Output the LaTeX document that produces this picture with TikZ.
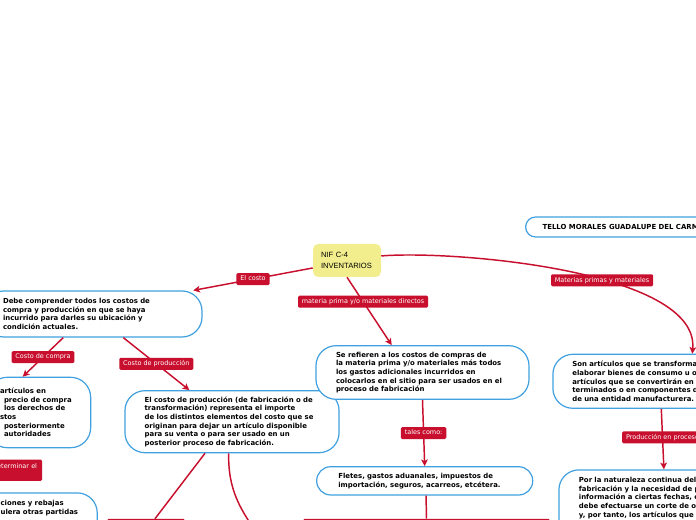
\documentclass[tikz,border=0pt]{standalone}
\usepackage{fontspec}
\setmainfont{DejaVu Sans}
\newfontfamily\niffont{Liberation Sans}
\usetikzlibrary{positioning, arrows.meta}

\definecolor{linkred}{RGB}{200,16,46}
\definecolor{ideablue}{RGB}{64,160,224}
\definecolor{nifyellow}{RGB}{242,238,142}

\newcommand{\ideafont}{\fontsize{5.2pt}{6.5pt}\selectfont\bfseries}
\newcommand{\tagfont}{\fontsize{4.85pt}{5.8pt}\selectfont}

\begin{document}
\begin{tikzpicture}[x=0.75pt, y=-0.75pt]
    \tikzstyle{idea} = [rectangle, rounded corners=15pt, draw=ideablue, line width=0.9pt, fill=white, align=left, font=\ideafont]
    \tikzstyle{central} = [rectangle, rounded corners=4pt, fill=nifyellow, align=left, font=\niffont\fontsize{5.7pt}{8pt}\selectfont]
    \tikzstyle{tag} = [rectangle, rounded corners=1pt, fill=linkred, text=white, font=\tagfont, inner xsep=2.9pt, inner ysep=2.1pt, text height=3.7pt, text depth=1.1pt]
    \tikzstyle{link} = [draw=linkred, line width=1.1pt]
    \tikzstyle{arrow} = [link, -{Stealth[length=5pt, width=5pt, inset=1.2pt]}]

    \fill[white] (0,0) rectangle (696,520);
    \useasboundingbox (0,0) rectangle (696,520);
    \clip (0,0) rectangle (696,520);

    \node (nif) [central, text width=39pt, inner xsep=6pt, minimum height=24.75pt] at (347,260.5) {NIF C-4\\INVENTARIOS};
    \node (tello) [idea, anchor=west, rounded corners=7.5pt, inner xsep=12.75pt, minimum height=15pt] at (525,227) {TELLO MORALES GUADALUPE DEL CARMEN};

    \node (costos) [idea, text width=135pt, inner xsep=14.25pt, minimum height=34.5pt] at (93,314) {Debe comprender todos los costos de\\compra y producción en que se haya\\incurrido para darles su ubicación y\\condición actuales.};
    \node (compra) [idea, text width=52.5pt, inner xsep=12.5pt, minimum height=52.8pt] at (39,412.5) {\hspace*{-3pt}artículos en\\precio de compra\\los derechos de\\\hspace*{-3pt}stos\\posteriormente\\autoridades};
    \node (produccion) [idea, text width=131pt, inner xsep=14.8pt, minimum height=46.5pt] at (232,421.7) {El costo de producción (de fabricación o de\\transformación) representa el importe\\de los distintos elementos del costo que se\\originan para dejar un artículo disponible\\para su venta o para ser usado en un\\posterior proceso de fabricación.};
    \node (materia) [idea, text width=129.75pt, inner xsep=15pt, minimum height=40.2pt] at (422.5,372.5) {Se refieren a los costos de compras de\\la materia prima y/o materiales más todos\\los gastos adicionales incurridos en\\colocarlos en el sitio para ser usados en el\\proceso de fabricación};
    \node (fletes) [idea, rounded corners=10.5pt, text width=129.6pt, inner xsep=16.2pt, minimum height=21.2pt] at (424.7,480.85) {Fletes, gastos aduanales, impuestos de\\importación, seguros, acarreos, etcétera.};
    \node (primas) [idea, anchor=west, text width=150pt, inner xsep=14.55pt, minimum height=40.5pt] at (552.3,381.3) {Son artículos que se transforman para\\elaborar bienes de consumo u otros\\artículos que se convertirán en productos\\terminados o en componentes de los productos\\de una entidad manufacturera.};
    \node (proceso) [idea, anchor=north west, text width=150pt, inner xsep=15pt, inner ysep=5.5pt, text height=4pt, text depth=40pt] at (558.3,469.3) {Por la naturaleza continua del proceso\\fabricación y la necesidad de proporcionar\\información a ciertas fechas, cada\\debe efectuarse un corte de operaciones\\y, por tanto, los artículos que se};
    \node (rebajas) [idea, anchor=north west, text width=58.5pt, inner xsep=14pt, inner ysep=5.4pt, text height=4pt, text depth=30pt] at (-18.7,492.3) {ciones y rebajas\\ulera otras partidas};

    \node (tdeterminar) [tag, anchor=north east, text width=60pt, align=right, inner xsep=3.75pt, inner ysep=2.9pt, text height=4pt, text depth=6.2pt] at (42.3,459.3) {eterminar el};
    \node (tbajo1) [tag, anchor=north, minimum width=58.5pt, minimum height=9pt] at (146,518.7) {};
    \node (tbajo2) [tag, anchor=north, minimum width=185.25pt, minimum height=9pt] at (426.5,518.7) {};
    \coordinate (offbelow) at (262,540);

    \draw [arrow] ([yshift=-5.6pt]nif.west) -- node[tag, pos=0.5] (tcosto) {El costo} ([xshift=-7pt]costos.north east);
    \draw [arrow] (nif.south) -- node[tag, pos=0.36] (tmateria) {materia prima y/o materiales directos} ([xshift=-23.1pt]materia.north);
    \draw [arrow] ([yshift=3.4pt]nif.east) .. controls (450,250) and (700,270) .. node[tag, pos=0.59] (tprimas) {Materias primas y materiales} ([xshift=15pt]primas.north);
    \draw [arrow] ([xshift=-22.3pt]costos.south) -- node[tag, pos=0.5] (tcompra) {Costo de compra} ([xshift=-12.2pt]compra.north);
    \draw [arrow] ([xshift=22.7pt]costos.south) -- node[tag, pos=0.5] (tprod) {Costo de producción} ([xshift=-32pt]produccion.north);
    \draw [arrow] (materia.south) -- node[tag, pos=0.5] (ttales) {tales como:} (fletes.north);
    \draw [arrow] ([xshift=-8.25pt]primas.south) -- node[tag, pos=0.47] (tproceso) {Producción en proceso} ([xshift=-11.25pt]proceso.north);
    \draw [link] ([xshift=-20.25pt]produccion.south) -- ([xshift=6.75pt]tbajo1.north);
    \draw [link] ([xshift=-2.5pt]produccion.south) .. controls (228,490) and (240,510) .. (offbelow);
    \draw [link] ([xshift=1pt]fletes.south) -- (tbajo2.north);
\end{tikzpicture}
\end{document}
